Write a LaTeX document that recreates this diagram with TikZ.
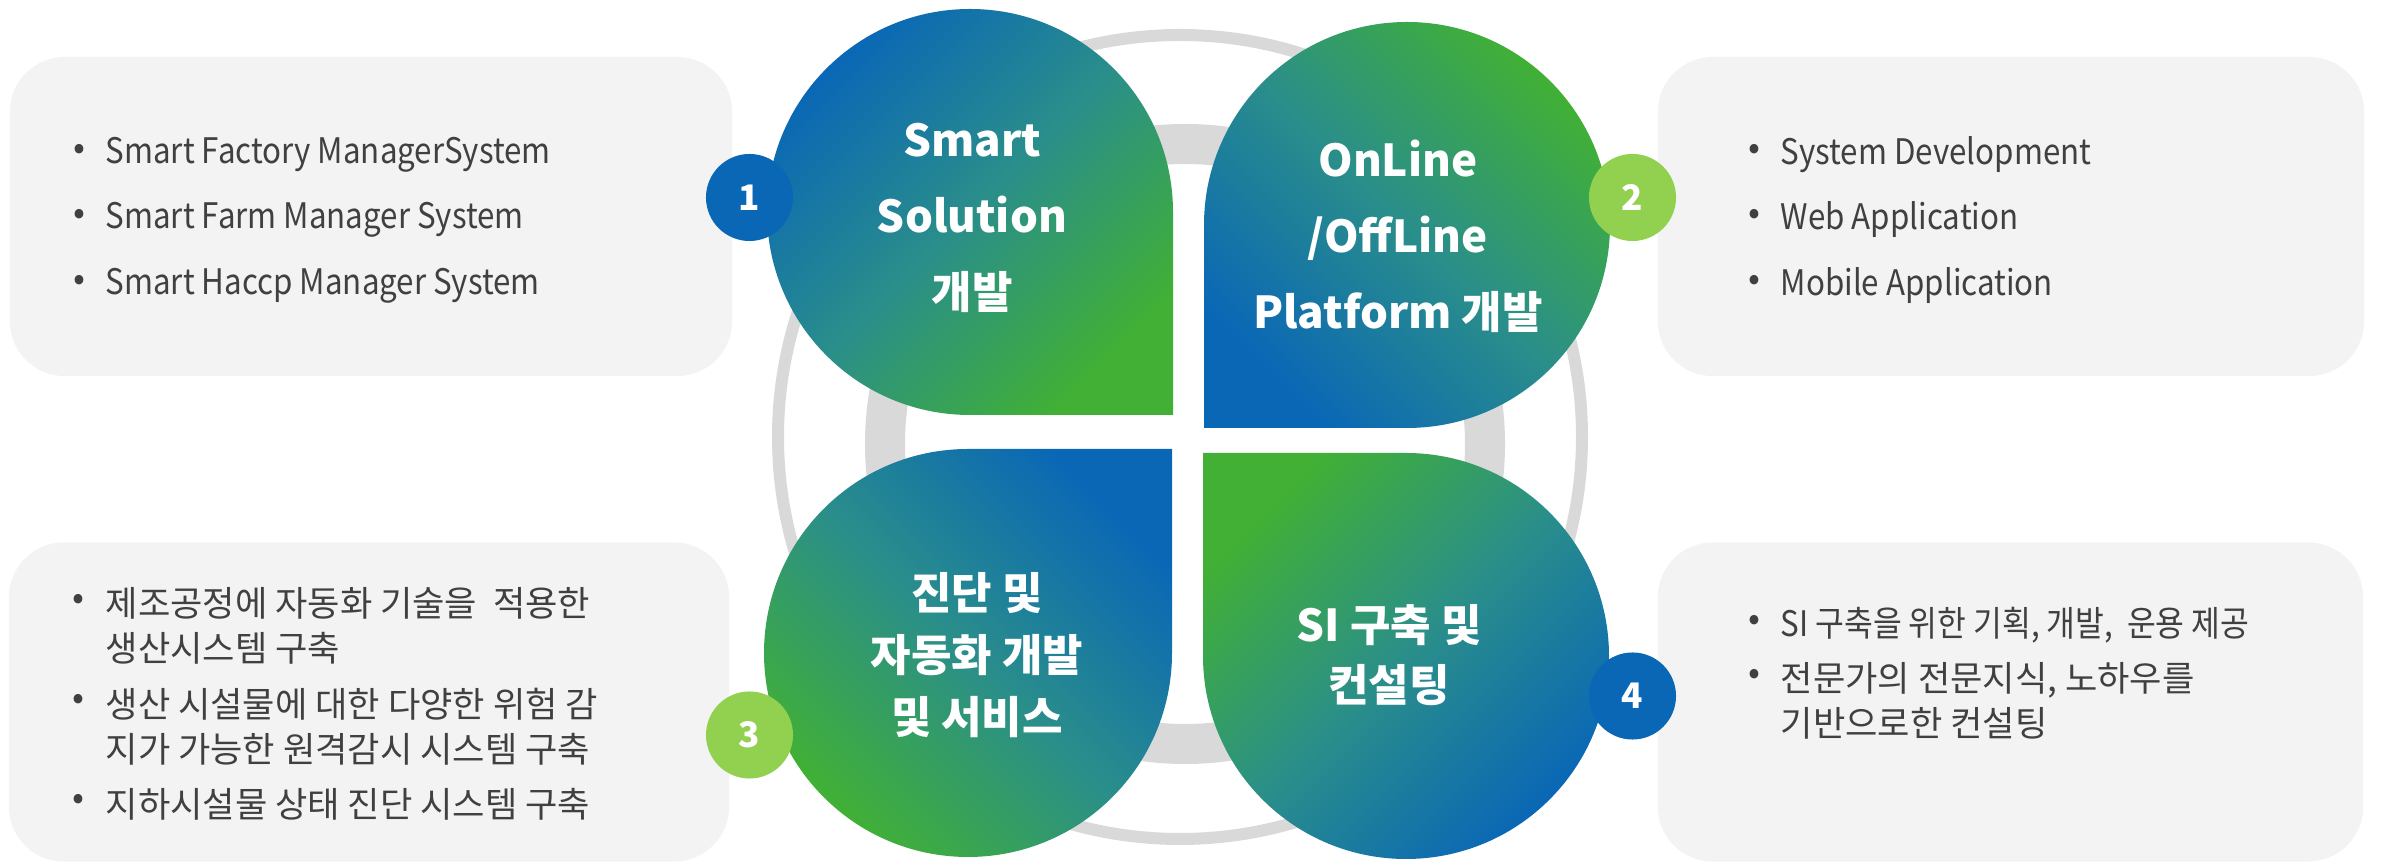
\documentclass[tikz,border=0pt]{standalone}
\usepackage{fontspec}
\setmainfont{Noto Sans CJK KR}
\newfontfamily\narrowfont{Noto Sans CJK KR}[FakeStretch=0.89]
\usetikzlibrary{positioning}
\definecolor{dblue}{HTML}{0A67B6}
\definecolor{dgreen}{HTML}{41B035}
\definecolor{dteal}{HTML}{2A8E8A}
\definecolor{lgreen}{HTML}{92D050}
\definecolor{boxgray}{HTML}{F3F3F3}
\definecolor{ringgray}{HTML}{D9D9D9}
\definecolor{txtgray}{HTML}{404040}
\tikzset{
    x=0.01cm, y=-0.01cm,
    infobox/.style = {rectangle, rounded corners=0.55cm, fill=boxgray, minimum height=3.19cm},
    numdot/.style = {circle, minimum size=0.87cm, inner sep=0pt, text=white, font=\fontsize{10}{12}\selectfont\bfseries},
    item/.style = {anchor=west, align=left, inner sep=0pt, text=txtgray, font=\fontsize{10}{12.8}\selectfont},
    latinitem/.style = {item, font=\narrowfont\fontsize{10}{12.8}\selectfont},
    bul/.style = {inner sep=0pt, text=txtgray, font=\fontsize{10}{12}\selectfont},
    ptext/.style = {align=center, text=white, font=\fontsize{12.5}{21.6}\selectfont\bfseries},
    ring/.style = {draw=ringgray}
}

\begin{document}
\begin{tikzpicture}
    \useasboundingbox (0,0) rectangle (2381,865);

    % side boxes
    \node[infobox, minimum width=7.22cm] (b1) at (371,216.5) {};
    \node[infobox, minimum width=7.06cm] (b2) at (2011,216.5) {};
    \node[infobox, minimum width=7.20cm] (b3) at (369,702) {};
    \node[infobox, minimum width=7.05cm] (b4) at (2010.5,702) {};

    % rings
    \draw[ring, line width=0.12cm] (1180,437) circle[radius=402];
    \draw[ring, line width=0.40cm] (1185,444) circle[radius=300];

    % petals
    \shade[top color=dblue, bottom color=dgreen, middle color=dteal, shading angle=45]
        (1173,212) -- (1173,415) -- (970,415) arc[start angle=90, end angle=360, radius=203] -- cycle;
    \shade[top color=dgreen, bottom color=dblue, middle color=dteal, shading angle=-45]
        (1407,428) -- (1204,428) -- (1204,225) arc[start angle=180, end angle=450, radius=203] -- cycle;
    \shade[top color=dblue, bottom color=dgreen, middle color=dteal, shading angle=-45]
        (968,449) -- (1172,449) -- (1172,653) arc[start angle=0, end angle=270, radius=204] -- cycle;
    \shade[top color=dgreen, bottom color=dblue, middle color=dteal, shading angle=45]
        (1203,656) -- (1203,453) -- (1406,453) arc[start angle=270, end angle=540, radius=203] -- cycle;

    \node[ptext] (p1) at (972,218) {Smart\\Solution\\개발};
    \node[ptext] (p2) at (1398,236) {OnLine\\/OffLine\\Platform 개발};
    \node[ptext, font=\fontsize{12.5}{17.6}\selectfont\bfseries] (p3) at (977,655) {진단 및\\자동화 개발\\및 서비스};
    \node[ptext, font=\fontsize{12.5}{17}\selectfont\bfseries] (p4) at (1389,655) {SI 구축 및\\컨설팅};

    % numbers
    \node[numdot, fill=dblue] (n1) at (749.5,197.5) {1};
    \node[numdot, fill=lgreen] (n2) at (1632.5,197.5) {2};
    \node[numdot, fill=lgreen] (n3) at (749.5,735) {3};
    \node[numdot, fill=dblue] (n4) at (1632.5,696) {4};

    % box texts
    \node[bul] at (79,152) {•};
    \node[bul] at (79,217) {•};
    \node[bul] at (79,283) {•};
    \node[latinitem] (t11) at (105,155) {Smart Factory ManagerSystem};
    \node[latinitem] (t12) at (105,220) {Smart Farm Manager System};
    \node[latinitem] (t13) at (105,286) {Smart Haccp Manager System};

    \node[bul] at (1754,152) {•};
    \node[bul] at (1754,217) {•};
    \node[bul] at (1754,283) {•};
    \node[latinitem] (t21) at (1780,155) {System Development};
    \node[latinitem] (t22) at (1780,220) {Web Application};
    \node[latinitem] (t23) at (1780,286) {Mobile Application};

    \node[bul] at (78,602) {•};
    \node[bul] at (78,702) {•};
    \node[bul] at (78,802) {•};
    \node[item] (t31) at (105,626) {제조공정에 자동화 기술을\ \ 적용한\\생산시스템 구축};
    \node[item] (t32) at (105,727) {생산 시설물에 대한 다양한 위험 감\\지가 가능한 원격감시 시스템 구축};
    \node[item] (t33) at (105,804) {지하시설물 상태 진단 시스템 구축};

    \node[bul] at (1754,623) {•};
    \node[bul] at (1754,677) {•};
    \node[latinitem] (t41) at (1780,625) {SI 구축을 위한 기획, 개발,\ \ 운용 제공};
    \node[item] (t42) at (1780,701) {전문가의 전문지식, 노하우를\\기반으로한 컨설팅};
\end{tikzpicture}
\end{document}
